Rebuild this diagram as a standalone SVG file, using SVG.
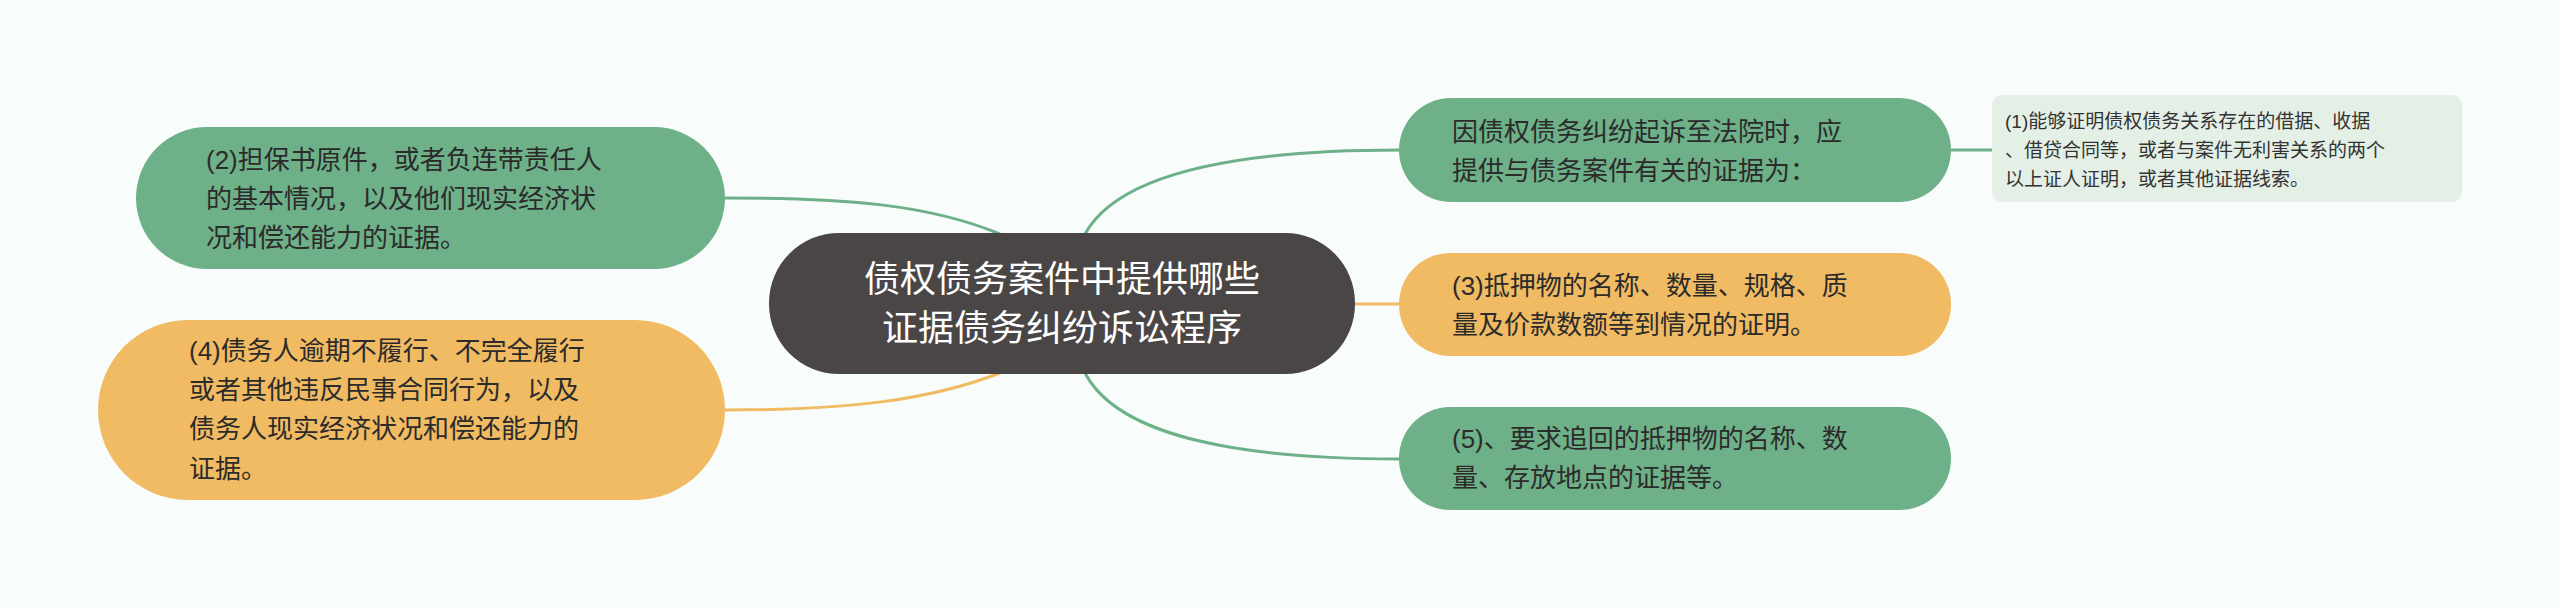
<svg xmlns="http://www.w3.org/2000/svg" width="2560" height="608" viewBox="0 0 2560 608">
<style>
text{font-family:"Liberation Sans","Noto Sans CJK SC",sans-serif;}
.g{fill:#6eb088;}
.o{fill:#f0bb62;}
.t{font-size:26px;fill:#2b2b2b;}
.lf{font-size:19px;fill:#333;}
.lg{fill:none;stroke:#6eb088;stroke-width:3;}
.lo{fill:none;stroke:#f0bb62;stroke-width:3;}
</style>
<rect width="2560" height="608" fill="#f8fdfc"/>
<g id="connectors">
<path class="lg" d="M1085,234 C1120,170 1250,150 1399,150"/>
<path class="lg" d="M1951,150 L1992,150"/>
<path class="lo" d="M1355,304 L1399,304"/>
<path class="lg" d="M1085,373 C1120,440 1250,459 1399,459"/>
<path class="lg" d="M1000,234 C930,205 850,198 725,198"/>
<path class="lo" d="M1000,373 C930,400 850,410 725,410"/>
</g>
<g id="center">
<rect x="769" y="233" width="586" height="141" rx="70" fill="#4b4646"/>
<text x="1062" y="292" text-anchor="middle" font-size="36" fill="#fff">债权债务案件中提供哪些</text>
<text x="1062" y="341" text-anchor="middle" font-size="36" fill="#fff">证据债务纠纷诉讼程序</text>
</g>
<g id="n2">
<rect class="g" x="136" y="127" width="589" height="142" rx="71"/>
<text class="t" x="206"><tspan x="206" y="169">(2)担保书原件，或者负连带责任人</tspan><tspan x="206" y="208">的基本情况，以及他们现实经济状</tspan><tspan x="206" y="247">况和偿还能力的证据。</tspan></text>
</g>
<g id="n4">
<rect class="o" x="98" y="320" width="627" height="180" rx="90"/>
<text class="t"><tspan x="189" y="360">(4)债务人逾期不履行、不完全履行</tspan><tspan x="189" y="399">或者其他违反民事合同行为，以及</tspan><tspan x="189" y="438">债务人现实经济状况和偿还能力的</tspan><tspan x="189" y="478">证据。</tspan></text>
</g>
<g id="nA">
<rect class="g" x="1399" y="98" width="552" height="104" rx="52"/>
<text class="t"><tspan x="1452" y="141">因债权债务纠纷起诉至法院时，应</tspan><tspan x="1452" y="180">提供与债务案件有关的证据为：</tspan></text>
</g>
<g id="leaf">
<rect x="1992" y="95" width="470" height="107" rx="10" fill="#e4efe6"/>
<text class="lf"><tspan x="2005" y="128">(1)能够证明债权债务关系存在的借据、收据</tspan><tspan x="2005" y="157">、借贷合同等，或者与案件无利害关系的两个</tspan><tspan x="2005" y="186">以上证人证明，或者其他证据线索。</tspan></text>
</g>
<g id="nB">
<rect class="o" x="1399" y="253" width="552" height="103" rx="51"/>
<text class="t"><tspan x="1452" y="295">(3)抵押物的名称、数量、规格、质</tspan><tspan x="1452" y="334">量及价款数额等到情况的证明。</tspan></text>
</g>
<g id="nC">
<rect class="g" x="1399" y="407" width="552" height="103" rx="51"/>
<text class="t"><tspan x="1452" y="448">(5)、要求追回的抵押物的名称、数</tspan><tspan x="1452" y="487">量、存放地点的证据等。</tspan></text>
</g>
</svg>
